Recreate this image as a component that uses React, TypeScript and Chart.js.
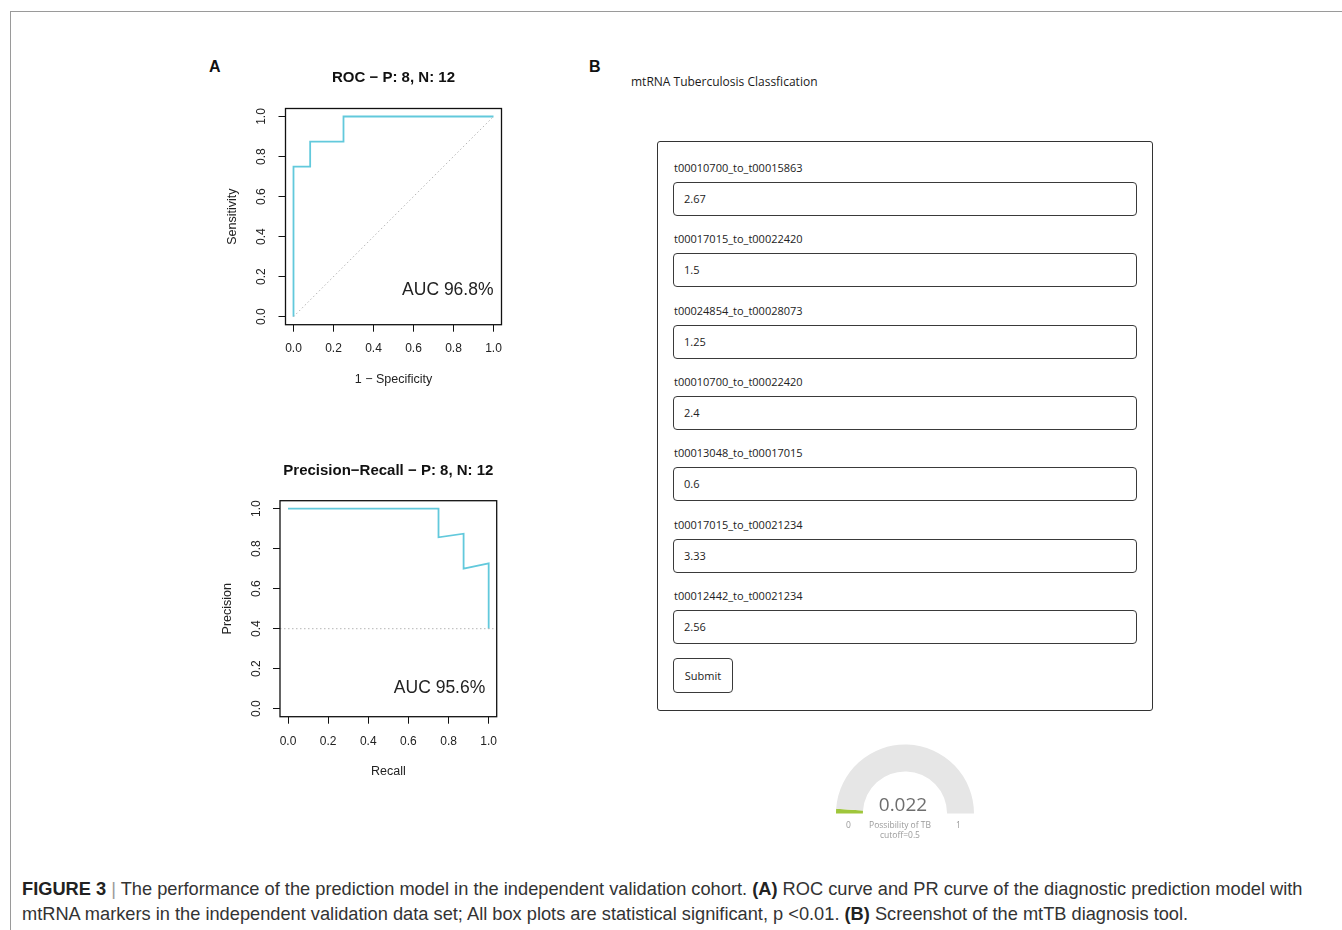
import React, { useEffect, useLayoutEffect, useRef } from 'react';
import { Chart, registerables } from 'chart.js';

Chart.register(...registerables);

// ---------- data ----------
const axisTicks = [0, 0.2, 0.4, 0.6, 0.8, 1.0];
const axisMin = -0.04;
const axisMax = 1.04;

const rocFpr = [0, 0, 0.0833, 0.0833, 0.25, 0.25, 1];
const rocTpr = [0, 0.75, 0.75, 0.875, 0.875, 1, 1];
const rocDiagX = [0, 1];
const rocDiagY = [0, 1];

const prRecall = [0, 0.75, 0.75, 0.875, 0.875, 1, 1];
const prPrecision = [1, 1, 0.857, 0.875, 0.7, 0.727, 0.4];
const prBaselineX = [axisMin, axisMax];
const prBaselineY = [0.4, 0.4];

const rocTitle = 'ROC \u2212 P: 8, N: 12';
const prTitle = 'Precision\u2212Recall \u2212 P: 8, N: 12';
const rocXTitle = '1 \u2212 Specificity';
const rocYTitle = 'Sensitivity';
const prXTitle = 'Recall';
const prYTitle = 'Precision';
const rocAucText = 'AUC 96.8%';
const prAucText = 'AUC 95.6%';
const rocAucPos = [1.0, 0.133];
const prAucPos = [0.983, 0.102];

const featureNames = [
  't00010700_to_t00015863',
  't00017015_to_t00022420',
  't00024854_to_t00028073',
  't00010700_to_t00022420',
  't00013048_to_t00017015',
  't00017015_to_t00021234',
  't00012442_to_t00021234',
];
const featureValues = ['2.67', '1.5', '1.25', '2.4', '0.6', '3.33', '2.56'];

const gaugeValue = 0.022;
const gaugeMin = 0;
const gaugeMax = 1;
const gaugeLabel = 'Possibility of TB';
const gaugeCutoff = 'cutoff=0.5';

// ---------- R-style plot ----------
const RFONT = '"Liberation Sans", Arial, Helvetica, sans-serif';
const CURVE = '#62c9dc';

type Line = { xs: number[]; ys: number[]; color: string; width: number; dash: number[] };
type Spec = {
  lines: Line[];
  title: string;
  xTitle: string;
  yTitle: string;
  auc: string;
  aucPos: number[];
  w: number;
  h: number;
  padTop: number;
  padRight: number;
  yW: number;
  xH: number;
  titleY: number;
  xTitlePadB: number;
  yTitlePadT: number;
  xTickPad: number;
  yTickPad: number;
};

function RPlot({ spec, left, top }: { spec: Spec; left: number; top: number }) {
  const ref = useRef<HTMLCanvasElement | null>(null);
  useEffect(() => {
    if (!ref.current) return;
    const overlay = {
      id: 'rOverlay',
      afterDraw(chart: any) {
        const { ctx, chartArea } = chart;
        const xs = chart.scales.x;
        const ys = chart.scales.y;
        ctx.save();
        ctx.strokeStyle = '#111';
        ctx.lineWidth = 1.3;
        ctx.strokeRect(chartArea.left, chartArea.top, chartArea.right - chartArea.left, chartArea.bottom - chartArea.top);
        ctx.fillStyle = '#111';
        ctx.font = `bold 15px ${RFONT}`;
        ctx.textAlign = 'center';
        ctx.textBaseline = 'middle';
        ctx.fillText(spec.title, (chartArea.left + chartArea.right) / 2, spec.titleY);
        ctx.font = `17.5px ${RFONT}`;
        ctx.fillStyle = '#222';
        ctx.textAlign = 'right';
        ctx.fillText(spec.auc, xs.getPixelForValue(spec.aucPos[0]), ys.getPixelForValue(spec.aucPos[1]));
        ctx.restore();
      },
    };
    const tickFont = { family: RFONT, size: 12 };
    const titleFont = { family: RFONT, size: 12.5 };
    const chart = new Chart(ref.current, {
      type: 'scatter',
      data: {
        datasets: spec.lines.map((l) => ({
          data: l.xs.map((x, i) => ({ x, y: l.ys[i] })),
          showLine: true,
          borderColor: l.color,
          borderWidth: l.width,
          borderDash: l.dash,
          pointRadius: 0,
          fill: false,
          tension: 0,
        })),
      },
      options: {
        animation: false,
        responsive: false,
        events: [],
        layout: { padding: { top: spec.padTop, right: spec.padRight, left: 0, bottom: 0 } },
        plugins: { legend: { display: false }, tooltip: { enabled: false }, title: { display: false } },
        scales: {
          x: {
            type: 'linear',
            min: axisMin,
            max: axisMax,
            afterBuildTicks: (s: any) => {
              s.ticks = axisTicks.map((v) => ({ value: v }));
            },
            afterFit: (s: any) => {
              s.height = spec.xH;
              s.paddingLeft = 0;
              s.paddingRight = 0;
            },
            grid: { display: true, drawOnChartArea: false, drawTicks: true, tickLength: 7, color: '#111', lineWidth: 1 },
            border: { display: false },
            ticks: {
              padding: spec.xTickPad,
              color: '#222',
              font: tickFont,
              autoSkip: false,
              maxRotation: 0,
              minRotation: 0,
              callback: (v: any) => Number(v).toFixed(1),
            },
            title: { display: true, text: spec.xTitle, color: '#222', font: titleFont, padding: { top: 0, bottom: spec.xTitlePadB } },
          },
          y: {
            type: 'linear',
            min: axisMin,
            max: axisMax,
            afterBuildTicks: (s: any) => {
              s.ticks = axisTicks.map((v) => ({ value: v }));
            },
            afterFit: (s: any) => {
              s.width = spec.yW;
              s.paddingTop = 0;
              s.paddingBottom = 0;
            },
            grid: { display: true, drawOnChartArea: false, drawTicks: true, tickLength: 7, color: '#111', lineWidth: 1 },
            border: { display: false },
            ticks: {
              padding: spec.yTickPad,
              color: '#222',
              font: tickFont,
              autoSkip: false,
              minRotation: 90,
              maxRotation: 90,
              crossAlign: 'center',
              callback: (v: any) => Number(v).toFixed(1),
            },
            title: { display: true, text: spec.yTitle, color: '#222', font: titleFont, padding: { top: spec.yTitlePadT, bottom: 0 } },
          },
        },
      } as any,
      plugins: [overlay],
    });
    return () => chart.destroy();
  }, [spec]);
  return (
    <canvas
      ref={ref}
      width={spec.w}
      height={spec.h}
      style={{ position: 'absolute', left, top, width: spec.w, height: spec.h }}
    />
  );
}

const rocSpec: Spec = {
  lines: [
    { xs: rocDiagX, ys: rocDiagY, color: '#b5b5b5', width: 1, dash: [1.5, 2.5] },
    { xs: rocFpr, ys: rocTpr, color: CURVE, width: 1.8, dash: [] },
  ],
  title: rocTitle,
  xTitle: rocXTitle,
  yTitle: rocYTitle,
  auc: rocAucText,
  aucPos: rocAucPos,
  w: 320,
  h: 350,
  padTop: 58.5,
  padRight: 18.5,
  yW: 85.5,
  xH: 75.3,
  titleY: 28.3,
  xTitlePadB: 13.4,
  yTitlePadT: 25.5,
  xTickPad: 10,
  yTickPad: 8.3,
};

const prSpec: Spec = {
  lines: [
    { xs: prBaselineX, ys: prBaselineY, color: '#b5b5b5', width: 1, dash: [1.5, 2.5] },
    { xs: prRecall, ys: prPrecision, color: CURVE, width: 1.8, dash: [] },
  ],
  title: prTitle,
  xTitle: prXTitle,
  yTitle: prYTitle,
  auc: prAucText,
  aucPos: prAucPos,
  w: 320,
  h: 350,
  padTop: 60.7,
  padRight: 23.3,
  yW: 80,
  xH: 73.3,
  titleY: 30.7,
  xTitlePadB: 11,
  yTitlePadT: 20.5,
  xTickPad: 11,
  yTickPad: 8.3,
};

// ---------- gauge ----------
function Gauge() {
  const ref = useRef<HTMLCanvasElement | null>(null);
  useEffect(() => {
    if (!ref.current) return;
    const chart = new Chart(ref.current, {
      type: 'doughnut',
      data: {
        labels: ['value', 'rest'],
        datasets: [
          {
            data: [gaugeValue - gaugeMin, gaugeMax - gaugeValue],
            backgroundColor: ['#9fc63b', '#e6e6e6'],
            borderWidth: 0,
          },
        ],
      },
      options: {
        animation: false,
        responsive: false,
        events: [],
        circumference: 180,
        rotation: -90,
        cutout: '61%',
        layout: { padding: 0 },
        plugins: { legend: { display: false }, tooltip: { enabled: false } },
      } as any,
    });
    return () => chart.destroy();
  }, []);
  return (
    <canvas ref={ref} width={138} height={70} style={{ position: 'absolute', left: 836, top: 744, width: 138, height: 70 }} />
  );
}

// ---------- app ----------
const FORM_FONT = '"Open Sans", "Noto Sans", sans-serif';

export default function App() {
  const capRef = useRef<HTMLDivElement | null>(null);
  const line1Ref = useRef<HTMLSpanElement | null>(null);
  useLayoutEffect(() => {
    const el = line1Ref.current;
    const cap = capRef.current;
    if (!el || !cap) return;
    const w = el.getBoundingClientRect().width;
    if (w > 0) cap.style.fontSize = `${(17 * 1281) / w}px`;
  }, []);

  const step = 71.33;
  return (
    <div
      style={{
        position: 'absolute',
        left: 0,
        top: 0,
        width: 1342,
        height: 930,
        background: '#fff',
        overflow: 'hidden',
        fontFamily: RFONT,
      }}
    >
      {/* frame */}
      <div style={{ position: 'absolute', left: 10, top: 11, width: 1340, height: 930, borderTop: '1px solid #9a9a9a', borderLeft: '1px solid #9a9a9a' }} />

      {/* panel labels */}
      <div style={{ position: 'absolute', left: 209, top: 57, fontSize: 16, fontWeight: 'bold', color: '#111', lineHeight: '20px' }}>A</div>
      <div style={{ position: 'absolute', left: 589, top: 57, fontSize: 16, fontWeight: 'bold', color: '#111', lineHeight: '20px' }}>B</div>

      <RPlot spec={rocSpec} left={200} top={50} />
      <RPlot spec={prSpec} left={200} top={440} />

      {/* panel B */}
      <div style={{ position: 'absolute', left: 631, top: 73, fontFamily: FORM_FONT, fontSize: 12, lineHeight: '18px', color: '#1a1a1a' }}>
        mtRNA Tuberculosis Classfication
      </div>
      <div
        style={{
          position: 'absolute',
          left: 657,
          top: 141,
          width: 496,
          height: 570,
          boxSizing: 'border-box',
          border: '1.4px solid #333',
          borderRadius: 3,
        }}
      />
      {featureNames.map((name, i) => (
        <React.Fragment key={name}>
          <div
            style={{
              position: 'absolute',
              left: 674,
              top: 159 + i * step,
              fontFamily: FORM_FONT,
              fontSize: 11,
              lineHeight: '18px',
              color: '#222',
              whiteSpace: 'nowrap',
            }}
          >
            {name}
          </div>
          <div
            style={{
              position: 'absolute',
              left: 673,
              top: 182 + i * step,
              width: 464,
              height: 34,
              boxSizing: 'border-box',
              border: '1.5px solid #3a3a3a',
              borderRadius: 4,
              fontFamily: FORM_FONT,
              fontSize: 11,
              lineHeight: '31px',
              paddingLeft: 10,
              color: '#222',
            }}
          >
            {featureValues[i]}
          </div>
        </React.Fragment>
      ))}
      <div
        style={{
          position: 'absolute',
          left: 673,
          top: 658,
          width: 60,
          height: 35,
          boxSizing: 'border-box',
          border: '1.5px solid #3a3a3a',
          borderRadius: 4,
          fontFamily: FORM_FONT,
          fontSize: 11,
          lineHeight: '33px',
          textAlign: 'center',
          color: '#222',
        }}
      >
        Submit
      </div>

      {/* gauge */}
      <Gauge />
      <div style={{ position: 'absolute', left: 820, top: 700, width: 170, height: 142, pointerEvents: 'none' }}>
        <div style={{ position: 'absolute', left: 0, width: 166, top: 92, textAlign: 'center', fontFamily: FORM_FONT, fontSize: 19, lineHeight: '24px', color: '#6e6e6e' }}>
          {gaugeValue.toFixed(3)}
        </div>
        <div style={{ position: 'absolute', left: 26, top: 119, fontFamily: FORM_FONT, fontSize: 8.5, lineHeight: '12px', color: '#9a9a9a' }}>{gaugeMin}</div>
        <div style={{ position: 'absolute', left: 136, top: 119, fontFamily: FORM_FONT, fontSize: 8.5, lineHeight: '12px', color: '#9a9a9a' }}>{gaugeMax}</div>
        <div style={{ position: 'absolute', left: 0, width: 160, top: 120, textAlign: 'center', fontFamily: FORM_FONT, fontSize: 8.5, lineHeight: '10px', color: '#9a9a9a' }}>
          {gaugeLabel}
          <br />
          {gaugeCutoff}
        </div>
      </div>

      {/* caption */}
      <div
        ref={capRef}
        style={{
          position: 'absolute',
          left: 22,
          top: 876,
          fontFamily: RFONT,
          fontSize: 17,
          lineHeight: '25px',
          color: '#333',
          whiteSpace: 'nowrap',
        }}
      >
        <span ref={line1Ref} style={{ display: 'inline-block' }}>
          <b style={{ color: '#222' }}>FIGURE 3</b> <span style={{ color: '#999' }}>|</span> The performance of the prediction model in the independent validation cohort.{' '}
          <b style={{ color: '#222' }}>(A)</b> ROC curve and PR curve of the diagnostic prediction model with
        </span>
        <br />
        <span style={{ display: 'inline-block' }}>
          mtRNA markers in the independent validation data set; All box plots are statistical significant, p &lt;0.01.{' '}
          <b style={{ color: '#222' }}>(B)</b> Screenshot of the mtTB diagnosis tool.
        </span>
      </div>
    </div>
  );
}
